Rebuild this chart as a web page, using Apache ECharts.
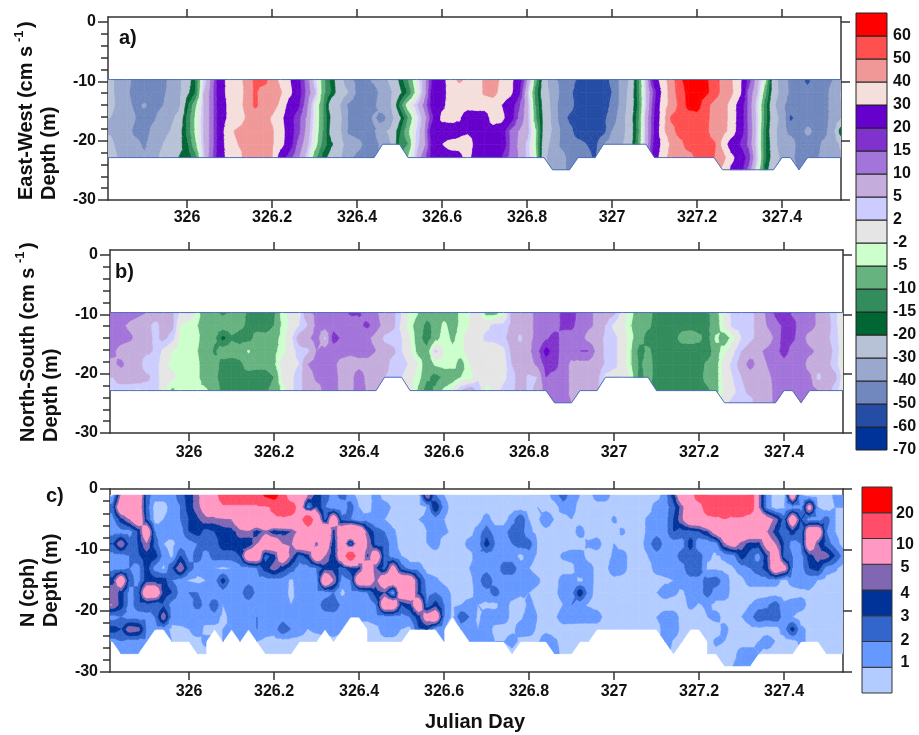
<!DOCTYPE html>
<html><head><meta charset="utf-8">
<style>html,body{margin:0;padding:0;background:#fff}#c{width:919px;height:735px}</style>
<script src="https://cdn.jsdelivr.net/npm/echarts@6/dist/echarts.min.js"></script>
</head><body><div id="c"></div>
<script>
const n = null;
const dayStart = 325.80, dayStep = 0.02;
const velocityDepths = [-9.7,-11.9,-14,-16.2,-18.4,-20.6,-22.85,-24.9];
const stratDepths = [-1,-3,-5,-7,-9,-11,-13,-15,-17,-19,-21,-23,-25,-27,-29];
const tickDays = [326,326.2,326.4,326.6,326.8,327,327.2,327.4];
const majorDepths = [0,-10,-20,-30];
const minorDepths = [-2,-4,-6,-8,-12,-14,-16,-18,-22,-24,-26,-28];

const velocityEdges = [-70,-60,-50,-40,-30,-20,-15,-10,-5,-2,2,5,10,15,20,30,40,50,60,70];
const velocityColors = ['#003399','#264da6','#7088bd','#99a8cc','#b8c2d6','#006633','#338c5c','#66b380','#ccffcc','#e5e5e5','#ccccff','#c4addc','#a374d9','#7f33cc','#6600cc','#f5dfdc','#f09898','#ff5050','#ff0000'];
const velocityLabels = ['-70','-60','-50','-40','-30','-20','-15','-10','-5','-2','2','5','10','15','20','30','40','50','60'];
const stratEdges = [0,1,2,3,4,5,10,20,30];
const stratColors = ['#b3ccff','#6699ff','#3366cc','#003399','#8066b3','#ff99c4','#ff4d6a','#ff0000'];
const stratLabels = ['1','2','3','4','5','10','20'];

const eastWest = [
[-27,-27,-35,-38,-43,-45,-45,-44,-38,-33,-25,
 -15,2,12,27,33,36,43,52,55,44,
 38,31,23,13,3,-8,-17,-26,-38,-42,
 -43,-38,-33,-28,-19,-10,-1,8,22,26,
 35,42,38,33,42,45,38,33,25,10,
 -8,-25,-38,-42,-45,-52,-55,-55,-54,-48,
 -38,-30,-14,5,24,36,45,58,65,65,
 62,55,47,41,33,18,8,-3,-25,-36,
 -42,-45,-53,-44,-43,-40,-33,-30],
[-28,-28,-33,-39,-44,-46,-42,-42,-38,-33,-22,
 -15,5,13,27,33,36,42,52,44,46,
 41,33,24,14,6,-8,-16,-25,-30,-42,
 -44,-44,-36,-31,-22,-14,-3,8,25,27,
 33,34,34,33,42,44,36,33,22,5,
 -12,-26,-33,-42,-48,-54,-55,-55,-55,-50,
 -38,-28,-14,4,17,33,45,55,63,65,
 63,55,47,42,33,14,6,-8,-25,-34,
 -42,-44,-46,-44,-43,-37,-29,-28],
[-28,-28,-32,-38,-42,-39,-44,-41,-36,-33,-17,
 -6,5,13,26,32,36,43,52,46,44,
 38,26,22,12,0,-10,-26,-30,-42,-45,
 -44,-42,-34,-30,-14,-2,4,12,25,28,
 33,33,33,33,33,34,30,24,16,7,
 -10,-24,-33,-45,-46,-54,-55,-55,-55,-48,
 -38,-27,-15,4,19,36,43,53,63,65,
 53,47,44,37,25,14,3,-12,-28,-38,
 -44,-45,-44,-45,-44,-36,-30,-29],
[-30,-30,-34,-36,-40,-44,-42,-36,-33,-27,-14,
 -4,5,13,26,32,34,41,44,44,39,
 33,23,17,10,0,-10,-22,-28,-41,-44,
 -43,-39,-44,-34,-22,-10,0,8,20,32,
 33,31,25,26,26,33,33,24,14,7,
 -9,-23,-32,-45,-52,-55,-55,-55,-52,-46,
 -35,-26,-13,6,20,36,52,53,55,55,
 53,46,44,37,25,14,4,-12,-26,-33,
 -52,-46,-44,-43,-43,-37,-30,-28],
[-31,-31,-35,-37,-43,-45,-37,-34,-30,-24,-14,
 -4,5,13,26,38,42,44,44,43,41,
 35,24,17,9,-1,-10,-24,-29,-42,-44,
 -44,-41,-32,-28,-16,-6,2,10,27,25,
 24,27,28,28,28,27,24,14,10,7,
 -4,-24,-31,-41,-47,-55,-55,-55,-54,-40,
 -34,-27,-13,6,20,38,46,55,55,55,
 53,44,43,37,24,15,4,-14,-27,-36,
 -43,-44,-38,-42,-43,-34,-14,-25],
[-28,-28,-33,-36,-37,-42,-34,-31,-25,-23,-16,
 -6,5,13,26,36,40,41,43,44,41,
 34,24,14,7,-2,-12,-19,-27,-34,-37,
 -42,-44,-37,-30,-14,-10,3,9,24,30,
 33,33,36,26,25,26,25,15,9,4,
 -5,-26,-33,-42,-46,-47,-50,-54,-40,-35,
 -32,-26,-12,6,22,33,42,46,55,55,
 55,52,37,24,20,14,3,-14,-25,-38,
 -35,-44,-44,-43,-38,-36,-28,-26],
[-26,-26,-31,-34,-36,-38,-35,-28,-25,-20,-19,
 -12,4,14,27,33,38,42,43,44,40,
 24,17,11,4,-8,-17,-24,-29,-38,-42,
 -44,-44,n,n,n,-5,5,14,24,25,
 26,27,33,25,25,26,20,13,10,4,
 -3,-28,-35,-36,-43,-45,-46,-52,n,n,
 n,n,n,n,24,36,44,46,45,52,
 55,50,44,33,25,18,5,-14,-24,-33,
 -37,-44,-40,-42,-36,-32,-32,-30],
[n,n,n,n,n,n,n,n,n,n,n,
 n,n,n,n,n,n,n,n,n,n,
 n,n,n,n,n,n,n,n,n,n,
 n,n,n,n,n,n,n,n,n,n,
 n,n,n,n,n,n,n,n,n,n,
 n,n,-33,-36,-43,n,n,n,n,n,
 n,n,n,n,n,n,n,n,n,n,
 n,n,38,28,24,14,1,-16,-28,n,
 n,-42,n,n,n,n,n,n]
];

const northSouth = [
[12,12,14,12,11,10,9,7,6,1,2.5,
 -4,-8,-9,-11,-9,-8,-11,-12,-13,-11,
 -3,-1,1,9,11,12,13,12,16,15.5,
 12,11,6,6,2,-3,-5,-7,-7,-7,
 -7.5,-4,-2,0,-7,-7,-3,6,7,9,
 11,12,13,16,17,13,11,9,7,6,
 0,-4,-8,-8,-12,-12,-14,-13,-14,-12,
 -11,-7,-1,3,4,4,6,11,16,20,
 14,13,12,9,6,3,-3,-3],
[12,12,11,9,8,7,3,7,6,-2,-4,
 -5,-6,-8,-7,-7,-9,-11,-12,-13,-10,
 -4,-1,2,5,11,12,13,11,11,14,
 16,12,8,6,1,-4,-7,-12,-8,-4,
 -7,-4,-2,1,1,3,3,6,7,9,
 11,12,13,16,16,13,11,9,5,1,
 -1,-5,-8,-9,-12,-13,-13,-12,-12,-12,
 -11,-8,-1,3,3.5,4,6,10,13,16,
 17,12,12,9,7,3,-1,-4],
[13,13,12,11,8,7,4,6,3.5,-3,-4,
 -4.5,-7,-9,-17,-11,-12,-12,-8,-8,-7,
 -3.5,1,7,9,12,4,17,14,12,11,
 11,8,4,3,2,-2,-8,-13,-7,-3,
 -6,-3,0,0,3,3,4,7,4,9,
 11,14,17,13,13,12,8,7,4,3,
 0,-4,-8,-12,-12,-13,-12,-8,-7,-9,
 -12,-4,-8,-3,2,4,6,7,11,17,
 16,12,8,7,6,3,0,-3],
[11,11,8,7,7,6,4.5,1,-2,-3.5,-4,
 -5,-7,-11,-7,-7,-8,-4.5,-8,-7,-6,
 -3.5,0,3.5,4,10,12,12,12,11,12,
 12,10,7,6,2,-1,-7,-8,3,-2,
 -4,-3,0,1,-1,0,1,6,7,9,
 13,22,17,13,12,15,15,8,4,3,
 0,-5,-12,-9,-12,-13,-13,-13,-14,-12,
 -13,-7,-3,1,5,7,9,11,13,17,
 13,12,11,9,7,4,-1,-3],
[9,9,11,8,7,2,4,-1,-3,-3.5,-4,
 -4.5,-7,-8,-12,-13,-11,-8,-8,-8,-6,
 0,1,2,10,12,13,11,8,8,8,
 8,7,7,3,4,1,-2,-9,-4,-3,
 -3.5,-7,-2,0,-1,2,0,5,7,8,
 11,17,17,12,9,8,8,7,4.5,3,
 0,-5,-11,-8,-12,-13,-13,-13,-13,-12,
 -9,-7,0,3,7,12,8,10,12,13,
 12,12,8,8,6,3.5,-2,-3],
[5,5,7,8,8,6,3.5,0,-1,-3.5,-4,
 -4.5,-7,-9,-12,-12,-11,-12,-13,-13,-10,
 -1,1,4,7,11,11,11,9,8,13,
 8,7,5,4,2,-1,-3.5,-9,-12,-9,
 -8,-5,-4,1,0,-1,1,3.5,7,4,
 5,15,13,12,9,8,7,6,1,0,
 2,-3,-12,-8,-12,-13,-13,-13,-13,-12,
 -8,-7,0,2,5,7,7,9,11,12,
 12,12,11,3.5,7,6,0,-2],
[4,4,3,2,1,3,3.5,0,-6,-3.5,-4,
 -4.5,-4.5,-7,-12,-12,-11,-12,-13,-11,-8,
 -4,1,4,7,8,11,11,9,8,13,
 9,7,n,n,n,0,-6,-13,-9,-4,
 -1,5,8,4,-3.5,0,3,4,7,4,
 6,12,12,12,9,8,7,6,n,n,
 n,n,n,n,-13,-15,-13,-13,-13,-12,
 -11,-7,-1,1,4,6,7,8,11,12,
 12,12,12,10,7,3.5,-1,-3],
[n,n,n,n,n,n,n,n,n,n,n,
 n,n,n,n,n,n,n,n,n,n,
 n,n,n,n,n,n,n,n,n,n,
 n,n,n,n,n,n,n,n,n,n,
 n,n,n,n,n,n,n,n,n,n,
 n,n,12,11,10,n,n,n,n,n,
 n,n,n,n,n,n,n,n,n,n,
 n,n,1,3,4,3.5,7,8,11,n,
 n,12,n,n,n,n,n,n]
];

const buoyancy = [
[.8,.8,5,7,7,2.5,1.5,1.5,1.5,2.5,3.5,
 4.5,7,7,14,14,14,14,14,22,25,
 14,5,7,5,3.5,2.5,1.5,2.5,1.5,.5,
 .5,1.5,.5,.5,.5,.5,.5,5,2,1,
 .5,.5,.5,.5,.5,.5,1,.5,.5,.5,
 .5,.5,1.5,2.5,1.5,1,.5,1.5,1.5,.5,
 .5,.5,.5,.5,.5,1.5,3.5,7,7,14,
 14,14,14,14,14,14,5,1.5,.5,.5,
 7,1,.5,.5,.5,1.2,1,.5],
[2,2.5,7,7,6.5,2.5,.5,.5,1.5,2,3.5,
 4.5,6,7,9,9,9,9,9,9,11,
 14,14,7,1.5,4,2,1.5,1,2.5,1,
 .5,1.5,1.5,.8,.5,.5,.5,1,4,1.5,
 .5,.5,.5,.5,.5,.5,.5,.5,.5,.5,
 1,.5,.5,1.5,1.5,.5,.5,.5,.5,.5,
 .5,.5,.5,.5,1.5,1.5,2.5,4.5,7,7,
 14,14,11,14,14,14,5,1.5,.5,.8,
 1.5,1.5,6,1,.5,1,1,.5],
[1.5,1.5,3.5,5,7,3,.5,1,1.5,2,3,
 3.8,4.6,4.5,4.7,5,7,7.5,8,9,9,
 9,8,8,14,7,2.5,7,2.5,2,1,
 1.5,1,1,.5,.5,.5,1,1.2,1.5,1,
 .5,.5,.5,.5,1.5,.5,.5,1.5,3,1,
 .7,2,.9,.5,1,.5,.5,.5,.5,1.2,
 .5,.5,.5,1.2,1.5,1.5,3,4.8,7,7,
 8,9,10,9,9,7,7,6,4.5,2.5,
 7,3,1.5,1.5,2.5,1,.5,.5],
[1.5,1.5,1.5,1.5,3,7,2,1.2,1.5,1.5,3,
 3.5,2.5,3,3.5,3.5,4.5,4.8,3.3,4.5,3.2,
 3.5,4,5.5,7,7,9,3.5,7,9,8,
 4,2.5,2,1.2,.5,.5,.5,1,1.2,1.2,
 .8,.5,.5,1.5,2.5,1.5,1.5,2.5,2.5,1.2,
 .7,.5,.5,.5,.5,1.5,.5,.5,.5,.5,
 1.2,.5,.5,1.2,1.5,1.5,3,2.5,2.5,3,
 4,6,7,7,7,7,7,5,3.5,2,
 3.5,2,7,7,2,1,.5,.5],
[3,3,5,2.5,3,4.8,2.5,1,.7,1.5,1.5,
 2,2.5,2.5,3.5,3.5,3.5,3,5,7,7,
 5,4.8,7,7,4.5,7,3,7,2,7,
 5,2.5,2.5,1.5,.5,.5,.5,1,1.5,.5,
 .5,.5,1.5,1.5,3.5,2,1.5,2,2.5,2.5,
 1,.5,.5,.5,.5,.5,1.2,1.5,.5,1,
 .5,.5,.5,1.5,2.8,1.5,1.5,1.5,3.5,1,
 1,1.5,4.8,6,4.5,3.5,3.5,6,5,3,
 1.5,2,7,4,2.5,1.5,.5,.5],
[1.5,1.5,1.5,2,2.8,3.5,3.5,1.5,.8,3,1.5,
 2.5,1.5,2.5,2.5,2.5,3,7,7,2.5,3.5,
 7,4.5,2.5,3.5,7,5,3,7,14,7,
 3.8,7,2.5,1.5,1,.5,.5,.5,.5,.5,
 .5,.5,.5,1.8,1.5,1.5,1.5,1.5,.7,1.5,
 .8,.5,.5,1.2,1.5,1.5,.5,.5,.5,1.2,
 1.5,.5,.5,1,1.5,1.5,1.5,2.5,2.5,2.5,
 1.2,.8,1.2,1.5,3.5,2.5,1.5,3.8,7,2.5,
 2,1.5,3.5,4.5,4.5,3,1.5,.5],
[1.5,1.5,1.5,2,1.5,3.5,1.5,.8,3,5,2.5,
 1.5,1.5,1,.8,1,1.5,1.5,2,3.5,4.5,
 3.5,2.5,1.5,1.5,2,3.5,3.5,2.5,3.5,3.5,
 7,4,2.5,6,2.5,1.5,1.5,.6,.5,.5,
 .5,.5,1,1.5,1.5,1,2.5,2.5,1.5,1,
 .6,.5,.5,.5,.5,2,1.5,.6,.5,2,
 1.5,.5,.5,.5,1.5,1.5,1.5,1.5,3,2.5,
 .8,.8,.7,.9,1.5,2,2.5,3.5,7,6,
 2,1.5,3,3.5,1.5,1.2,.5,.5],
[3.5,3.5,7,2.5,1.5,3.5,3.5,3.5,2,1.5,.9,
 .7,1,1.5,3.5,1.5,1.5,1.5,1.7,1.5,1.5,
 1.5,.8,1.5,1.5,1.5,7.5,5,1.5,2,7,
 7,4.5,7,7,7,7,3.5,1.5,1.2,.7,
 .5,.5,.7,1.5,3,1.5,1.5,1.5,1.5,1.5,
 1.2,.5,.5,1.5,1.5,.7,1.5,.6,.5,.5,
 .5,.5,.5,.5,.5,.8,1,1.5,1.5,1.7,
 2.3,2.5,1.5,.6,.7,1.5,1.5,1.5,1.5,.6,
 1.5,1.7,1.3,1,.6,.5,.5,.5],
[4.8,4.8,3.5,1.5,2.5,7,7,3.5,3,1.5,2,
 2,1.5,1,1.5,1,1.5,3,1.5,1.5,1.5,
 1.5,.7,1.5,1.2,1.5,1.5,2,.7,1.5,1.5,
 2,3.5,4,1.2,7,7,3.5,1.7,2,1.5,
 .8,.5,.5,1.5,1.5,2.5,1.5,1.5,1.2,1,
 .7,.5,.7,1.5,1.5,3.8,1.5,.5,.5,.5,
 1,.7,.5,.5,1,1.5,1.2,.8,1.5,1.5,
 2.5,1.5,1.5,.6,.5,.5,.5,.5,.5,.5,
 .5,.7,.9,.7,.5,.5,.5,.5],
[5,5,3.5,1.5,2.5,2.5,2,2.8,1.5,1.5,1.5,
 2.5,1.5,2.8,1,1.5,1.5,1.3,1,1.5,1,
 1.5,1,1.2,1.3,1.5,2.5,2.7,1.7,1.5,1.5,
 1.2,2,7,7,3,3.8,7,2,3.5,2,
 .8,1,1.5,1,.8,.7,1.5,.7,.5,1.2,
 .8,.5,.5,1,2,1.2,.9,.6,.5,.9,
 .5,.5,.5,.5,.5,.5,.5,.5,1.3,.9,
 1.2,.7,.7,.8,.5,1,1.5,1.8,2.6,1.2,
 1.5,1.5,.6,.5,.5,.5,.8,1],
[1.5,1.5,2,1.5,1.5,1.7,2,4.8,1.5,1.5,1.5,
 1,1.5,1.5,.7,1.3,1.3,1.8,2,1.5,1,
 1.5,1,1.2,1.3,1.5,1.5,1.5,1.5,1.5,1.2,
 1.2,1.5,1.5,1.5,1.5,2,3.5,6,7,2,
 .7,2.8,2,.8,1.5,1.5,1.5,.7,.8,1.5,
 1,.6,.8,1.5,1.6,1.5,1.5,1.5,.6,.5,
 .5,.5,.5,.5,1,1.5,1.5,.6,.5,.5,
 1,1.3,.7,.5,1,1.5,2.8,2.5,2.8,1.5,
 1,.5,.5,.5,.5,.5,.8,1],
[3.5,3.5,3,4.8,4.5,2,1.5,1.5,.7,.8,1,
 1.5,.7,.7,1,1,1.5,1.5,2,1.5,1.4,
 2.8,2,1.5,1,1.2,1.3,1.5,1.2,1,.5,
 .6,.7,1.5,1.5,1,.7,2.8,3,1.2,1,
 1,1.2,1,1,1.5,.7,.6,.7,1.5,1.5,
 .8,.5,.5,.6,.5,.5,.5,.5,.5,.5,
 .5,.5,.5,.5,.5,1.5,1.5,.7,.5,.5,
 .5,.5,1.3,.6,.5,.7,.7,.5,.5,1.5,
 3.5,1.2,.8,.5,.5,.5,1,1],
[1.5,1.5,2,1.5,1.5,1.7,1.2,1,1,.7,.8,
 .7,1.3,.7,1,1,1,1,1,.7,.6,
 .6,.6,.6,.6,.6,.6,.7,.6,.6,.6,
 .8,.7,.7,.7,.7,.7,1,1,1,1,
 1,1,1.6,1.5,1.5,1,1,1.5,.7,.6,
 .7,2,1.2,.6,.5,.5,.5,.5,.5,.5,
 .5,.5,.5,.5,.6,1.5,.9,.7,.5,.5,
 .5,1.2,1,.5,.5,.5,1,1.5,1,.5,
 .7,1.2,.8,.7,.5,.5,.5,.7],
[1,1,1.5,1.2,1.2,.8,.7,.7,.7,.7,.7,
 .6,.6,.6,.6,.6,.6,.6,.6,.6,.6,
 .6,.6,.6,.6,.6,.6,.6,.6,.6,.6,
 .6,.6,.6,.6,.6,.6,.6,.6,.6,.6,
 .6,.6,.6,.6,.6,.6,.6,.6,.6,.6,
 .6,.6,1.5,.6,.6,.6,.6,.6,.6,.6,
 .6,.6,.6,.6,.6,.6,.7,.6,.6,.6,
 .6,.7,.6,.6,1.5,1.5,1,.7,.7,.5,
 .5,.5,.5,.5,.5,.5,.5,.5],
[n,n,n,n,n,n,n,n,n,n,n,
 n,n,n,n,n,n,n,n,n,n,
 n,n,n,n,n,n,n,n,n,n,
 n,n,n,n,n,n,n,n,n,n,
 n,n,n,n,n,n,n,n,n,n,
 n,n,n,n,n,n,n,n,n,n,
 n,n,n,n,n,n,n,n,n,n,
 n,n,.6,1,1.5,1,n,n,n,n,
 n,n,n,n,n,n,n,n]
];
const buoyancyLastRow = [12,12,13,13,13,12,11,11,12,12,12,
 13,13,11,12,11,12,11,12,13,13,
 13,13,12,12,12,11,12,11,10,10,
 12,12,12,12,12,11,11,11,11,12,
 10,11,12,12,12,12,12,13,12,12,
 12,12,13,13,13,12,12,11,11,11,
 11,11,11,11,11,12,13,12,11,11,
 13,13,14,14,14,14,13,13,13,13,
 13,12,12,12,13,13,13,13];

const dayAt = i => dayStart + dayStep * i;
const FONT = '"Liberation Sans", Arial, sans-serif';

function maskedField(rows, lastRow){
  return rows.map((r,j)=>r.map((v,i)=> j<=lastRow[i] ? v : null));
}
function clipAt(poly, lev, above){
  const out=[];
  for(let k=0;k<poly.length;k++){
    const a=poly[k], b=poly[(k+1)%poly.length];
    const ia=above? a[2]>=lev : a[2]<=lev, ib=above? b[2]>=lev : b[2]<=lev;
    if(ia) out.push(a);
    if(ia!==ib){
      const t=(lev-a[2])/(b[2]-a[2]);
      out.push([a[0]+t*(b[0]-a[0]),a[1]+t*(b[1]-a[1]),lev]);
    }
  }
  return out;
}
function contourRenderer(field, depths, edges, colors){
  return function(params, api){
    const i=api.value(2), j=api.value(3);
    const x0=dayAt(i), x1=dayAt(i+1), y0=depths[j], y1=depths[j+1];
    const a=field[j][i], b=field[j][i+1], c=field[j+1][i+1], d=field[j+1][i];
    const pts=[[x0,y0,a],[x1,y0,b],[x1,y1,c],[x0,y1,d]].filter(p=>p[2]!=null&&p[2]!==undefined);
    if(pts.length<3) return {type:'group',children:[]};
    let polys;
    if(pts.length===4){
      const m=[(x0+x1)/2,(y0+y1)/2,(a+b+c+d)/4];
      polys=[[pts[0],pts[1],m],[pts[1],pts[2],m],[pts[2],pts[3],m],[pts[3],pts[0],m]];
    } else polys=[pts];
    const children=[];
    const add=(poly,k)=>children.push({type:'polygon',silent:true,
      shape:{points:poly.map(p=>api.coord([p[0],p[1]]))},
      style:{fill:colors[k],stroke:colors[k],lineWidth:0.6}});
    const bandOf=v=>{let k=0;while(k<colors.length-1&&v>=edges[k+1])k++;return k;};
    const vs=pts.map(p=>p[2]);
    const kMin=bandOf(Math.min(...vs)), kMax=bandOf(Math.max(...vs));
    if(kMin===kMax){ add(pts,kMin); return {type:'group',children}; }
    polys.forEach(tri=>{
      for(let k=kMin;k<=kMax;k++){
        let p=tri;
        if(k>0) p=clipAt(p,edges[k],true);
        if(p.length>=3&&k<colors.length-1) p=clipAt(p,edges[k+1],false);
        if(p.length>=3) add(p,k);
      }
    });
    return {type:'group',children};
  };
}
function cellsOf(field, depths){
  const out=[];
  for(let j=0;j<depths.length-1;j++) for(let i=0;i<field[0].length-1;i++){
    out.push([dayAt(i),depths[j],i,j]);
  }
  return out;
}
function edgeLine(field, depths){
  const top=[], bot=[];
  field[0].forEach((v,i)=>{
    top.push([dayAt(i),depths[0]]);
    let last=0;
    for(let j=0;j<depths.length;j++) if(field[j][i]!=null) last=j;
    bot.push([dayAt(i),depths[last]]);
  });
  return [top,bot];
}

const fieldA = eastWest, fieldB = northSouth;
const fieldC = maskedField(buoyancy, buoyancyLastRow);

const lineS = {color:'#333',width:1.5};
const xMin=325.814, xMax=327.5388;
const panels=[
 {left:108,top:17,height:183,yMax:0.84,labelMargin:10},
 {left:110,top:250,height:183,yMax:0.84,labelMargin:12},
 {left:110,top:489,height:183,yMax:0,labelMargin:12}
];
const grids=panels.map(p=>({left:p.left,top:p.top,width:733,height:p.height,show:false,containLabel:false}));
const xAxes=[], yAxes=[];
panels.forEach((p,g)=>{
  const base={type:'value',gridIndex:g,min:xMin,max:xMax,splitLine:{show:false},
    axisLine:{show:true,onZero:false,lineStyle:lineS}};
  xAxes.push({...base,position:'bottom',
    axisTick:{show:true,length:8,lineStyle:lineS,customValues:tickDays},
    axisLabel:{show:true,customValues:tickDays,margin:p.labelMargin,color:'#111',fontFamily:FONT,fontWeight:'bold',fontSize:16,
      showMinLabel:true,showMaxLabel:true,hideOverlap:false,formatter:v=>String(+(+v).toFixed(1))}});
  xAxes.push({...base,position:'top',
    axisTick:{show:true,length:8,lineStyle:lineS,customValues:tickDays},
    axisLabel:{show:false}});
  const ybase={type:'value',gridIndex:g,min:-30,max:p.yMax,splitLine:{show:false}};
  yAxes.push({...ybase,position:'left',
    axisLine:{show:true,onZero:false,lineStyle:lineS},
    axisTick:{show:true,length:10,lineStyle:lineS,customValues:majorDepths},
    axisLabel:{show:true,customValues:majorDepths,margin:12,color:'#111',fontFamily:FONT,fontWeight:'bold',fontSize:16,hideOverlap:false}});
  yAxes.push({...ybase,position:'left',
    axisLine:{show:false,onZero:false},
    axisTick:{show:true,length:7,lineStyle:lineS,customValues:minorDepths},
    axisLabel:{show:false}});
  yAxes.push({...ybase,position:'right',
    axisLine:{show:true,onZero:false,lineStyle:lineS},
    axisTick:{show:true,length:9,lineStyle:lineS,customValues:majorDepths},
    axisLabel:{show:false}});
});
function contourSeries(g,field,depths,edges,colors){
  return {type:'custom',xAxisIndex:g*2,yAxisIndex:g*3,clip:true,silent:true,animation:false,
    dimensions:['x','y','i','j'],encode:{x:0,y:1},
    renderItem:contourRenderer(field,depths,edges,colors),data:cellsOf(field,depths),progressive:0};
}
function edgeSeries(g,field,depths){
  return edgeLine(field,depths).map(d=>({type:'line',xAxisIndex:g*2,yAxisIndex:g*3,data:d,symbol:'none',silent:true,animation:false,
    clip:true,z:5,lineStyle:{color:'#4f71b8',width:1}}));
}
const series=[
 contourSeries(0,fieldA,velocityDepths,velocityEdges,velocityColors),
 ...edgeSeries(0,fieldA,velocityDepths),
 contourSeries(1,fieldB,velocityDepths,velocityEdges,velocityColors),
 ...edgeSeries(1,fieldB,velocityDepths),
 contourSeries(2,fieldC,stratDepths,stratEdges,stratColors)
];

const T=(text,x,y,size,extra)=>({type:'text',x,y,silent:true,...extra,
  style:{text,fill:'#111',font:`bold ${size}px ${FONT}`,align:(extra&&extra.align)||'left',verticalAlign:'middle'}});
const R=Math.PI/2;
const graphic=[
 T('a)',119,38,20),T('b)',115,272,20),T('c)',46,496,20),
 T('East-West (cm s',26,200,20,{rotation:R}),T('-1',19,42,13,{rotation:R}),T(')',26,28,20,{rotation:R}),
 T('Depth (m)',49,200,20,{rotation:R}),
 T('North-South (cm s',28,442,20,{rotation:R}),T('-1',20,263,13,{rotation:R}),T(')',28,249,20,{rotation:R}),
 T('Depth (m)',51,442,20,{rotation:R}),
 T('N (cph)',28,627,20,{rotation:R}),
 T('Depth (m)',51,627,20,{rotation:R}),
 T('Julian Day',425,722,20)
];
velocityColors.forEach((col,k)=>{
  const top=13+23*(18-k);
  graphic.push({type:'rect',silent:true,shape:{x:856,y:top,width:31,height:23},style:{fill:col,stroke:'#222',lineWidth:1}});
});
velocityLabels.forEach((s,k)=>{ if(k===0){graphic.push(T(s,893,450,16));return;}
  graphic.push(T(s,893,13+23*(18-k)+23,16)); });
const stratOffsets=[663,641,617,594,568,545,514];
stratColors.forEach((col,k)=>{
  const top=487+25.75*(7-k);
  graphic.push({type:'rect',silent:true,shape:{x:862,y:top,width:30,height:25.75},style:{fill:col,stroke:'#333',lineWidth:1}});
});
stratLabels.forEach((s,k)=>graphic.push(T(s,905,stratOffsets[k],16,{align:'center'})));
graphic.forEach(g=>{ if(g.align){g.style.align=g.align; delete g.align;} });

const chart=echarts.init(document.getElementById('c'),null,{renderer:'canvas'});
chart.setOption({animation:false,backgroundColor:'#fff',grid:grids,xAxis:xAxes,yAxis:yAxes,series,graphic:{elements:graphic}});
</script></body></html>
